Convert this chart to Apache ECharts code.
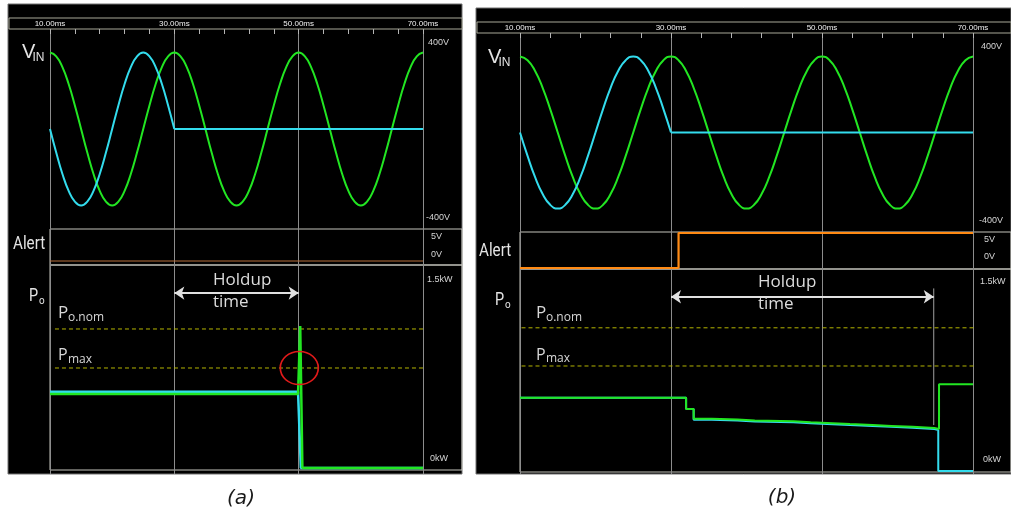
<!DOCTYPE html>
<html><head><meta charset="utf-8">
<script src="https://cdn.jsdelivr.net/npm/echarts@6/dist/echarts.min.js"></script>
<style>html,body{margin:0;padding:0;background:#fff}#c{width:1011px;height:514px}</style>
</head><body><div id="c"></div>
<script>
// ---------- DATA ----------
const vinTime=[10,11,12,13,14,15,16,17,18,19,20,21,22,23,24,25,26,27,28,29,30,31,32,33,34,35,36,37,38,39,40,41,42,43,44,45,46,47,48,49,50,51,52,53,54,55,56,57,58,59,60,61,62,63,64,65,66,67,68,69,70];
const vinGreen=[325,309,263,191,100,0,-100,-191,-263,-309,-325,-309,-263,-191,-100,0,100,191,263,309,325,309,263,191,100,0,-100,-191,-263,-309,-325,-309,-263,-191,-100,0,100,191,263,309,325,309,263,191,100,0,-100,-191,-263,-309,-325,-309,-263,-191,-100,0,100,191,263,309,325];
const vinCyanTime=[10,11,12,13,14,15,16,17,18,19,20,21,22,23,24,25,26,27,28,29,30];
const vinCyan=[0,-100,-191,-263,-309,-325,-309,-263,-191,-100,0,100,191,263,309,325,309,263,191,100,0];
const vinCyanFlatTime=[30,70];
const vinCyanFlat=[0,0];

const alertATime=[10,70];
const alertA=[0,0];
const alertBTime=[10,31,31,70];
const alertB=[0,0,5,5];

const poAGreenTime=[10,49.9,50.25,50.6,70];
const poAGreen=[0.62,0.62,1.19,0,0];
const poACyanTime=[10,49.9,50.35,70];
const poACyan=[0.64,0.64,0,0];

const poBGreenTime=[10,32.0,33.0,35.4,38.8,41.1,46.2,48.5,51.4,53.7,56.7,59.2,62.0,64.9,65.5,70];
const poBGreen=[0.614,0.52,0.438,0.431,0.423,0.416,0.408,0.400,0.393,0.385,0.378,0.370,0.360,0.352,0.727,0.727];
const poBCyanTime=[10,32.0,33.0,35.4,38.8,41.1,46.2,48.5,51.4,53.7,56.7,59.2,62.0,64.9,65.4,70];
const poBCyan=[0.614,0.52,0.430,0.423,0.415,0.408,0.400,0.392,0.385,0.377,0.370,0.362,0.352,0.344,0,0];

const refSpanA=[10.8,70.3];
const poNomA=[1.165,1.165];
const pMaxA=[0.838,0.838];
const refSpanB=[10.2,70.1];
const poNomB=[1.20,1.20];
const pMaxB=[0.88,0.88];

const holdupA=[30,50];
const holdupB=[30,64.8];
const holdupLevel=[1.466,1.46];
const holdupEndTimeB=[64.8,64.8];
const holdupEndB=[1.53,0.385];
const circleA=[50.1,0.838];

const rightLabels=['400V','-400V','5V','0V','1.5kW','0kW'];

// ---------- BUILD ----------
const grids=[], xAxis=[], yAxis=[], series=[];
function grid(g, xa, ya){
  grids.push(Object.assign({show:false, containLabel:false}, g));
  const i=grids.length-1;
  xAxis.push(Object.assign({gridIndex:i, type:'value', show:false, min:10, max:70, axisLine:{onZero:false}}, xa||{}));
  yAxis.push(Object.assign({gridIndex:i, type:'value', show:false, min:0, max:1, axisLine:{onZero:false}}, ya||{}));
  return i;
}
const pts=(t,v)=>t.map((x,k)=>[x,v[k]]);
function line(gi,t,v,color,width,extra){
  series.push(Object.assign({type:'line', xAxisIndex:gi, yAxisIndex:gi, data:pts(t,v), symbol:'none', showSymbol:false,
    clip:false, silent:true, animation:false, lineStyle:{color:color, width:width}}, extra||{}));
}

const panel={show:true, backgroundColor:'#000', borderColor:'#707070', borderWidth:1};
grid(Object.assign({left:8, top:4, width:454, height:470}, panel));
grid(Object.assign({left:476, top:8, width:560, height:466}, panel));
const ruler={show:true, backgroundColor:'#000', borderColor:'#a8a898', borderWidth:1};
grid(Object.assign({left:9, top:18, width:453, height:11}, ruler));
grid(Object.assign({left:477, top:22, width:560, height:11}, ruler));
// divider frames
const div={show:true, backgroundColor:'transparent', borderColor:'#c4c4bc', borderWidth:1};
grid(Object.assign({left:50, top:229, width:412, height:36}, div));
grid(Object.assign({left:50, top:265, width:412, height:205}, div));
grid(Object.assign({left:520, top:232, width:520, height:37}, div));
grid(Object.assign({left:520, top:269, width:520, height:203}, div));

const frameX={show:true, position:'top', min:10, max:70, interval:20,
  axisLine:{show:false, onZero:false},
  axisTick:{show:true, inside:true, length:5, lineStyle:{color:'#b4b4b4'}},
  minorTick:{show:true, splitNumber:5, length:5, lineStyle:{color:'#b4b4b4'}},
  splitLine:{show:true, lineStyle:{color:'#8c8c8c', width:1}},
  axisLabel:{show:true, showMinLabel:true, showMaxLabel:true, color:'#f0f0f0', fontSize:8, fontFamily:'Liberation Sans', margin:1,
    formatter:v=>v.toFixed(2)+'ms'}};
grid({left:50, top:29, width:373, height:445}, frameX);
grid({left:520, top:33, width:453, height:441}, frameX);

const GREEN='#22e622', CYAN='#33dced';
// (a)
const vA=grid({left:50, top:29, width:373, height:200}, null, {min:-425, max:425});
const aA=grid({left:50, top:229, width:373, height:36}, null, {min:-0.571, max:4.571});
const pA=grid({left:50, top:289, width:373, height:179}, null, {min:0, max:1.5});
// (b)
const vB=grid({left:520, top:33, width:453, height:199}, null, {min:-425, max:425});
const aB=grid({left:520, top:232, width:453, height:37}, null, {min:-0.143, max:5.143});
const pB=grid({left:520, top:292, width:453, height:179}, null, {min:0, max:1.5});

[[vA,aA,pA,alertATime,alertA,'#b8703c',1.2,refSpanA,poNomA,pMaxA,holdupA,holdupLevel[0]],
 [vB,aB,pB,alertBTime,alertB,'#ff8a14',2.2,refSpanB,poNomB,pMaxB,holdupB,holdupLevel[1]]].forEach(p=>{
  const [gv,ga,gp,at,av,ac,aw,rs,pn,pm,hu,hl]=p;
  line(gv,vinTime,vinGreen,GREEN,2,{smooth:0.5});
  line(gv,vinCyanTime,vinCyan,CYAN,2,{smooth:0.5});
  line(gv,vinCyanFlatTime,vinCyanFlat,CYAN,2);
  line(ga,at,av,ac,aw);
  line(gp,rs,pn,'#b4b400',1,{lineStyle:{color:'#b4b400',width:1,type:[4,3]}});
  line(gp,rs,pm,'#b4b400',1,{lineStyle:{color:'#b4b400',width:1,type:[4,3]},
    markLine:{silent:true, animation:false, symbol:['arrow','arrow'], symbolSize:[10,10], label:{show:false},
      emphasis:{disabled:true}, lineStyle:{color:'#e0e0e0', width:2, type:'solid'},
      data:[[{coord:[hu[0],hl]},{coord:[hu[1],hl]}]]}});
});
line(pA,poACyanTime,poACyan,CYAN,2.5);
line(pA,poAGreenTime,poAGreen,GREEN,2.5,{markPoint:{silent:true, animation:false, symbol:'circle', symbolSize:[38,33],
  itemStyle:{color:'rgba(0,0,0,0)', borderColor:'#e01a1a', borderWidth:1.6}, label:{show:false},
  data:[{coord:circleA}]}});
line(pB,holdupEndTimeB,holdupEndB,'#a0a0a0',1);
line(pB,poBCyanTime,poBCyan,CYAN,2,{step:'end'});
line(pB,poBGreenTime,poBGreen,GREEN,2,{step:'end'});

// ---------- TEXT ----------
function txt(s,x,y,font,fill,extra,styleExtra){
  return Object.assign({type:'text', x:x, y:y, z:10, silent:true,
    style:Object.assign({text:s, font:font, fill:fill||'#e4e4e4', align:'left', verticalAlign:'middle'}, styleExtra||{})}, extra||{});
}
const els=[];
function leftLabels(dx,vY,alY,pY){
  els.push(txt('V',22+dx,vY,'20px "Liberation Sans"'));
  els.push(txt('IN',32.5+dx,vY+6,'12px "Liberation Sans"'));
  els.push(txt('Alert',13+dx,alY,'19px Roboto',null,{scaleX:0.8}));
  els.push(txt('P',29+dx,pY,'18px Roboto',null,{scaleX:0.8}));
  els.push(txt('o',39+dx,pY+5,'11px Roboto',null,{scaleX:0.9}));
}
leftLabels(0,52,244,296);
leftLabels(466,57,251,300);

function poLabels(x,nomY,maxY,hx,hy){
  els.push(txt('P',x,nomY,'17px "Open Sans"','#d8d8d8'));
  els.push(txt('o.nom',x+10,nomY+5,'12px "Open Sans"','#d8d8d8'));
  els.push(txt('P',x,maxY,'16px "Open Sans"','#d8d8d8'));
  els.push(txt('max',x+10,maxY+4,'12px "Open Sans"','#d8d8d8'));
  els.push(txt('Holdup',hx,hy,'17px "Open Sans"','#dcdcdc'));
  els.push(txt('time',hx,hy+22,'17px "Open Sans"','#dcdcdc'));
}
poLabels(58,313,355.5,213,280);
poLabels(536,313,355,758,282);

function rightCol(x,ys){
  const off=[2,0,5,5,1,4];
  rightLabels.forEach((s,k)=>els.push(txt(s,x+off[k],ys[k],'9px "Liberation Sans"','#d4d4d4')));
}
rightCol(426,[43,218,237,255,280,459]);
rightCol(979,[47,221,240,257,282,460]);

els.push(txt('(a)',241,499,'italic 20px "DejaVu Sans"','#1a1a1a',null,{align:'center'}));
els.push(txt('(b)',782,498,'italic 20px "DejaVu Sans"','#1a1a1a',null,{align:'center'}));

const chart=echarts.init(document.getElementById('c'),null,{renderer:'canvas',width:1011,height:514});
chart.setOption({
  backgroundColor:'#ffffff', animation:false,
  grid:grids, xAxis:xAxis, yAxis:yAxis, series:series,
  graphic:{elements:els}
});
</script></body></html>
